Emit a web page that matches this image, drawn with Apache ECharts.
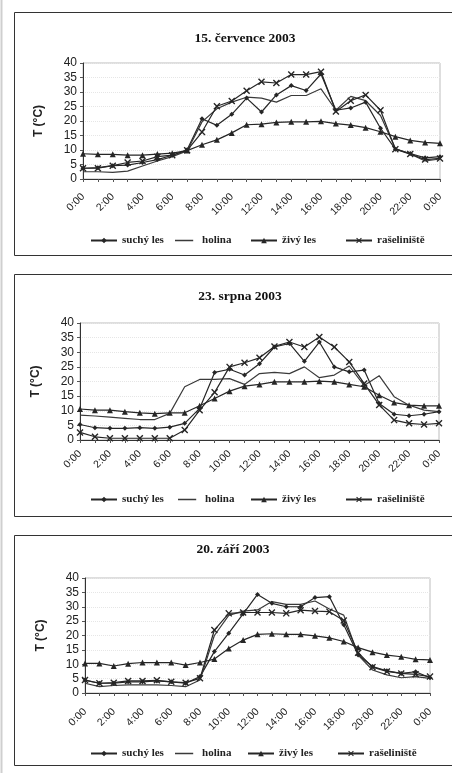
<!DOCTYPE html>
<html><head><meta charset="utf-8">
<script src="https://cdn.jsdelivr.net/npm/echarts@6/dist/echarts.min.js"></script>
<style>html,body{margin:0;padding:0;background:#fff}#c{width:452px;height:773px}</style>
</head><body><div id="c"></div>
<script>
var hours = ['0:00','1:00','2:00','3:00','4:00','5:00','6:00','7:00','8:00','9:00','10:00','11:00','12:00','13:00','14:00','15:00','16:00','17:00','18:00','19:00','20:00','21:00','22:00','23:00','0:00'];
var titles = ['15. července 2003','23. srpna 2003','20. září 2003'];
var names = ['suchý les','holina','živý les','rašeliniště'];
var yTicks = [0,5,10,15,20,25,30,35,40];

var suchy1 = [3.7,3.9,4.6,4.8,5.7,6.7,8.2,10.1,20.8,18.5,22.3,27.9,23.1,29,32.2,30.5,36.2,23.7,24.5,26.5,17.5,10.3,8.8,7.3,7.7];
var holina1 = [2.5,2.5,2.3,2.7,4.5,6.2,7.7,9.7,19.7,24.2,26.5,28.2,27.9,26.5,28.8,28.8,31.1,23.7,28.5,27,21.9,10.5,8.6,6.2,6.9];
var zivy1 = [8.7,8.5,8.5,8.2,8.2,8.6,8.9,9.8,11.8,13.5,15.9,18.7,18.9,19.5,19.7,19.7,19.9,19.1,18.6,17.7,16.3,14.6,13.3,12.6,12.3];
var rasel1 = [3.7,3.7,4.6,5.7,6.2,7.7,8.2,9.9,16.2,25.1,26.9,30.4,33.5,33.1,36,36,37,23.3,27,29,23.7,10.3,8.6,6.7,7.1];

var suchy2 = [5.3,4.2,4.0,4.0,4.2,4.0,4.4,5.7,10.8,23.1,24.2,22.2,26.1,31.8,33,26.9,33.5,25,23.3,23.9,12.5,8.8,8.3,8.8,9.7];
var holina2 = [8.5,8.2,7.8,7.4,7.0,7.0,9.1,18.2,20.7,20.7,21,19,22.7,23.1,22.7,25,21.3,22.2,25.3,18.6,22,14.8,11.9,10.2,9.7];
var zivy2 = [10.6,10.2,10.2,9.7,9.3,9.0,9.3,9.3,11.7,14.2,16.7,18.4,19,19.9,19.9,19.9,20.1,19.9,19,18.2,15.3,12.8,11.9,11.7,11.7];
var rasel2 = [2.6,1.1,0.6,0.6,0.6,0.6,0.6,3.4,10.2,16.3,25,26.4,28.1,32,33.5,31.8,35.2,31.8,26.7,19.3,12,6.8,5.7,5.3,5.7];

var suchy3 = [4.5,3.4,3.4,3.9,3.9,4.2,3.9,3.4,5.7,14.4,20.8,27.5,34.3,31.2,30,30,33.2,33.5,23.7,13.2,9.2,7.7,6.8,7.4,5.3];
var holina3 = [3.4,2.2,2.6,2.8,2.8,2.8,2.6,2.2,4.5,20,27,28.5,28.9,31.8,30.8,30.8,32,29.2,27.1,13.2,8,6.3,5.3,5.7,5.1];
var zivy3 = [10.3,10.3,9.4,10.2,10.6,10.6,10.6,9.7,10.6,11.8,15.5,18.4,20.4,20.6,20.4,20.4,19.9,19.2,17.9,15.8,14.2,13.2,12.6,11.7,11.5];
var rasel3 = [4.5,3.4,3.6,4.2,4.2,4.4,3.9,3.6,5.1,21.9,27.7,28,28,28,27.7,28.8,28.5,28.3,25.2,14,9,7.5,6.8,6.5,5.7];

var panels = [
  {s:suchy1,h:holina1,z:zivy1,r:rasel1},
  {s:suchy2,h:holina2,z:zivy2,r:rasel2},
  {s:suchy3,h:holina3,z:zivy3,r:rasel3}
];

// layout (pixels)
var grids = [
  {left:83, right:12, top:63, height:116},
  {left:80, right:13, top:323, height:117},
  {left:85, right:22, top:578, height:115}
];
var labelMargin = [16, 12, 17];
var titlePos = [{x:240,y:27},{x:235,y:285},{x:228,y:538}];
var legendTop = [235, 494, 748];
var legendX = [[90,175,250,345],[90,178,250,345],[90,175,247,337]];
var boxes = [{y:12,h:243},{y:274,h:242},{y:535,h:230}];

var xMark = 'path://M0,1.4L1.4,0L5,3.6L8.6,0L10,1.4L6.4,5L10,8.6L8.6,10L5,6.4L1.4,10L0,8.6L3.6,5Z';
var plainLine = 'path://M0,0L0.01,0L0.01,0.01L0,0.01Z M0,4.1L26,4.1L26,5.9L0,5.9Z M0,9.99L0.01,9.99L0.01,10L0,10Z';
var lineCol = '#262626';

var option = {
  backgroundColor:'#fff',
  animation:false,
  title:[], grid:[], xAxis:[], yAxis:[], legend:[], series:[],
  graphic:[]
};
var serif = '"Liberation Serif", "Times New Roman", serif';
var sans = '"Liberation Sans", Arial, sans-serif';

for (var p=0;p<3;p++){
  var g = grids[p];
  option.grid.push({left:g.left,right:g.right,top:g.top,height:g.height,show:true,borderColor:'#bdbdbd',borderWidth:1,backgroundColor:'transparent'});
  option.title.push({text:titles[p],left:titlePos[p].x,top:titlePos[p].y,textAlign:'center',
    textStyle:{fontFamily:serif,fontWeight:'bold',fontSize:13.5,color:'#111'}});
  option.xAxis.push({type:'category',gridIndex:p,data:hours,boundaryGap:false,
    axisLine:{lineStyle:{color:'#333',width:1}},
    axisTick:{show:true,interval:0,length:3,lineStyle:{color:'#555'}},
    axisLabel:{interval:1,rotate:45,fontSize:10.5,fontFamily:sans,color:'#222',margin:labelMargin[p]},
    splitLine:{show:false}});
  option.yAxis.push({type:'value',gridIndex:p,min:0,max:40,interval:5,
    name:'T (°C)',nameLocation:'middle',nameRotate:90,nameGap:38,
    nameTextStyle:{fontFamily:sans,fontWeight:'bold',fontSize:12,color:'#222'},
    axisLine:{show:true,lineStyle:{color:'#333',width:1}},
    axisTick:{show:true,length:3,lineStyle:{color:'#555'}},
    axisLabel:{fontSize:12,fontFamily:sans,color:'#222',margin:6},
    splitLine:{show:true,lineStyle:{color:'#e6e6e6',type:'dotted'}}});
  for (var k=0;k<4;k++){
    var item = k===1 ? {name:names[k],icon:plainLine} : names[k];
    option.legend.push({data:[item],top:legendTop[p],left:legendX[p][k],padding:0,itemWidth:26,itemHeight:7,itemGap:0,
      textStyle:{fontFamily:serif,fontWeight:'bold',fontSize:11,color:'#222'}});
  }
  var d = panels[p];
  var common = {type:'line',xAxisIndex:p,yAxisIndex:p,lineStyle:{color:lineCol,width:1.2},itemStyle:{color:lineCol},emphasis:{disabled:true}};
  option.series.push(Object.assign({},common,{name:names[0],data:d.s,symbol:'diamond',symbolSize:5}));
  option.series.push(Object.assign({},common,{name:names[1],data:d.h,symbol:'none',itemStyle:{color:'#3a3a3a'},lineStyle:{color:'#3a3a3a',width:1.2}}));
  option.series.push(Object.assign({},common,{name:names[2],data:d.z,symbol:'triangle',symbolSize:6}));
  option.series.push(Object.assign({},common,{name:names[3],data:d.r,symbol:xMark,symbolSize:7}));
  option.graphic.push({type:'rect',shape:{x:14.5,y:boxes[p].y+0.5,width:460,height:boxes[p].h},
    style:{fill:'none',stroke:'#333',lineWidth:1},silent:true,z:-1});
}
option.graphic.push({type:'line',shape:{x1:1.5,y1:0,x2:1.5,y2:773},style:{stroke:'#cfcfcf',lineWidth:2},silent:true});

var chart = echarts.init(document.getElementById('c'),null,{renderer:'canvas'});
chart.setOption(option);
</script></body></html>
